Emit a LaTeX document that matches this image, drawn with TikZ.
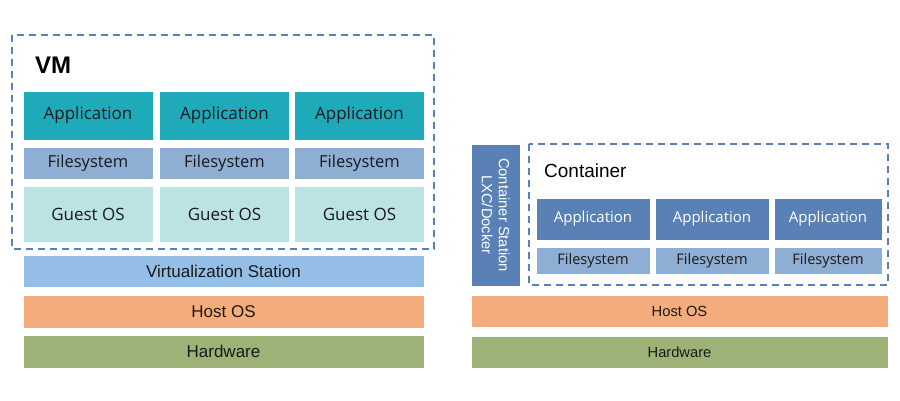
\documentclass[tikz,border=0pt]{standalone}
\usepackage{fontspec}
\setmainfont{Liberation Sans}
\newfontfamily\appfont{Open Sans}
\usetikzlibrary{positioning}

\definecolor{vmapp}{HTML}{1EAAB9}
\definecolor{fsblue}{HTML}{8FAED3}
\definecolor{guest}{HTML}{BCE3E4}
\definecolor{virt}{HTML}{95BEE6}
\definecolor{hostos}{HTML}{F5AC7C}
\definecolor{hware}{HTML}{9CB276}
\definecolor{cblue}{HTML}{5981B5}
\definecolor{dashblue}{HTML}{5B80B8}
\definecolor{ink}{HTML}{1A1A1A}

\tikzset{
    x=1pt, y=-1pt,
    layer/.style={draw=white, line width=0.8pt, inner sep=0pt, text=ink},
    vm-app/.style={layer, fill=vmapp, minimum width=130, minimum height=49, font=\appfont\fontsize{17}{20}\selectfont},
    vm-fs/.style={layer, fill=fsblue, minimum width=130, minimum height=32, font=\appfont\fontsize{16.5}{20}\selectfont},
    vm-guest/.style={layer, fill=guest, minimum width=130, minimum height=56, font=\appfont\fontsize{17}{20}\selectfont},
    big/.style={layer, font=\fontsize{17}{20}\selectfont},
    small/.style={layer, font=\fontsize{14.7}{18}\selectfont},
    c-app/.style={layer, fill=cblue, text=white, minimum height=42, font=\appfont\fontsize{15}{18}\selectfont},
    c-fs/.style={layer, fill=fsblue, minimum height=27, font=\appfont\fontsize{14.6}{18}\selectfont},
    frame/.style={draw=dashblue, line width=1.6pt, dash pattern=on 7pt off 5pt},
    title/.style={anchor=west, inner sep=1pt, text=black},
}

\begin{document}
\begin{tikzpicture}
    \useasboundingbox (0,0) rectangle (900,400);

    % VM side
    \draw [frame] (12,35) rectangle (434,249);
    \node [title, font=\bfseries\fontsize{24}{28}\selectfont] (vm-title) at (34,65) {VM};
    \foreach \x [count=\i] in {88,224.5,359.5} {
        \node [vm-app] (vm-app\i) at (\x,115.5) {Application};
        \node [vm-fs] (vm-fs\i) at (\x,163) {Filesystem};
        \node [vm-guest] (vm-guest\i) at (\x,214) {Guest OS};
    }
    \node [big, fill=virt, minimum width=401, minimum height=32] (vm-virt) at (223.5,271) {Virtualization Station};
    \node [big, fill=hostos, minimum width=401, minimum height=33] (vm-host) at (223.5,311.5) {Host OS};
    \node [big, fill=hware, minimum width=401, minimum height=33] (vm-hw) at (223.5,351.5) {Hardware};

    % Container side
    \node [small, fill=cblue, text=white, rotate=-90, minimum width=142, minimum height=49, align=center] (c-station) at (495.5,215) {Container Station\\[-1pt]LXC/Docker};
    \draw [frame] (529,144) rectangle (888,285);
    \node [title, font=\fontsize{19}{22}\selectfont] (c-title) at (543,171) {Container};
    \foreach \x/\w [count=\i] in {593/114, 712/114, 828/108} {
        \node [c-app, minimum width=\w] (c-app\i) at (\x,219) {Application};
        \node [c-fs, minimum width=\w] (c-fs\i) at (\x,260.5) {Filesystem};
    }
    \node [small, fill=hostos, minimum width=417, minimum height=32] (c-host) at (679.5,311) {Host OS};
    \node [small, fill=hware, minimum width=417, minimum height=32] (c-hw) at (679.5,352) {Hardware};
\end{tikzpicture}
\end{document}
